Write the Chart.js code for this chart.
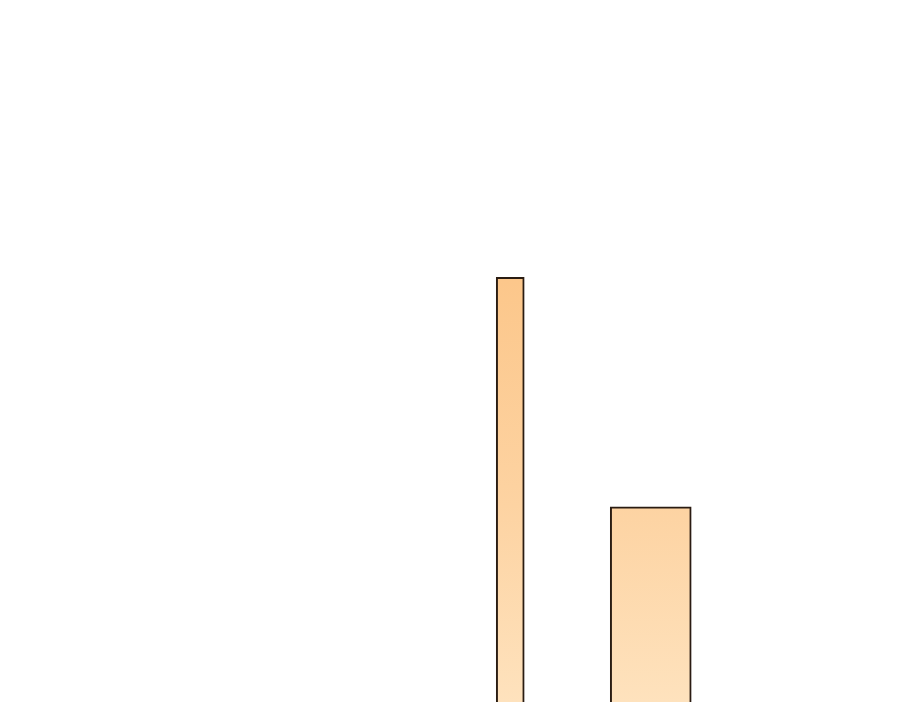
<!DOCTYPE html>
<html>
<head>
<meta charset="utf-8">
<script src="https://cdn.jsdelivr.net/npm/chart.js@4/dist/chart.umd.min.js"></script>
<style>
    html, body { margin: 0; padding: 0; background: #fff; }
    #wrap { width: 900px; height: 702px; position: relative; }
</style>
</head>
<body>
<div id="wrap"><canvas id="myChart"></canvas></div>
<script>
// Chart data
const categories = ['Bar 1', 'Bar 2'];
const narrowValues = [60.5, null];
const wideValues = [null, 27.8];
const yMin = 0;
const yMax = 100;

document.addEventListener('DOMContentLoaded', function () {
    const ctx = document.getElementById('myChart').getContext('2d');

    // Vertical peach gradient over the chart area
    function peachFill(context) {
        const area = context.chart.chartArea;
        if (!area) return '#fdd29f';
        const g = context.chart.ctx.createLinearGradient(0, area.top, 0, area.bottom);
        g.addColorStop(0, '#fcc27f');
        g.addColorStop(0.4, '#fcc78b');
        g.addColorStop(0.72, '#fdd3a2');
        g.addColorStop(1, '#fee2bd');
        return g;
    }

    new Chart(ctx, {
        type: 'bar',
        data: {
            labels: categories,
            datasets: [{
                data: narrowValues,
                backgroundColor: peachFill,
                borderColor: '#2a1c12',
                borderWidth: 2,
                barThickness: 28,
                grouped: false
            }, {
                data: wideValues,
                backgroundColor: peachFill,
                borderColor: '#2a1c12',
                borderWidth: 2,
                barThickness: 81,
                grouped: false
            }]
        },
        options: {
            responsive: true,
            maintainAspectRatio: false,
            animation: false,
            layout: {
                padding: { left: 440, right: 179, top: 0, bottom: 0 }
            },
            plugins: {
                legend: { display: false },
                tooltip: { enabled: false }
            },
            scales: {
                x: { display: false },
                y: { display: false, min: yMin, max: yMax }
            }
        }
    });
});
</script>
</body>
</html>
